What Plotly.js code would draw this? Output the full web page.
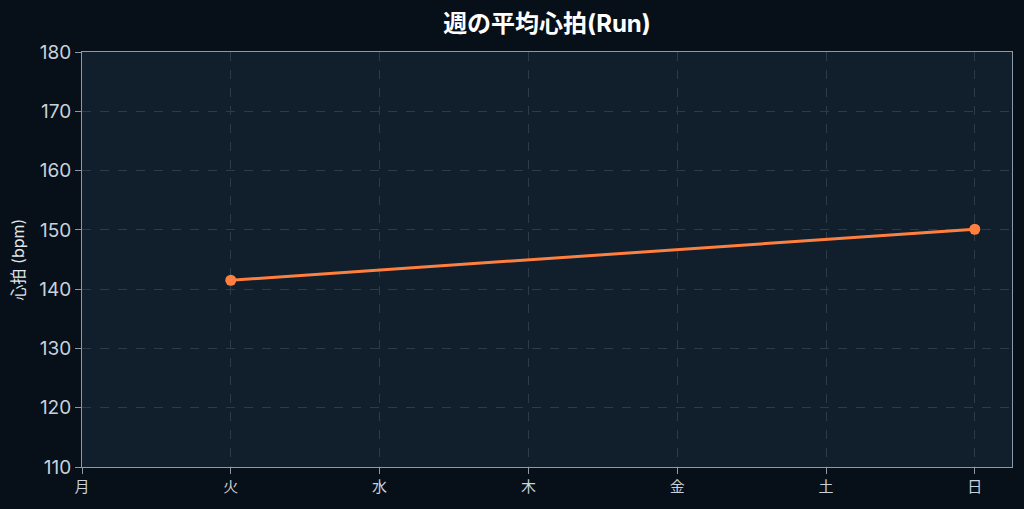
<!DOCTYPE html>
<html><head><meta charset="utf-8">
<script src="https://cdn.plot.ly/plotly-3.0.1.min.js"></script>
<style>html,body{margin:0;padding:0;background:#070f18;}#chart{width:1024px;height:509px;}</style>
</head><body><div id="chart"></div>
<script>
const days = ['月','火','水','木','金','土','日'];
const heartRate = [null, 141.5, null, null, null, null, 150.1];
const yTicks = [110,120,130,140,150,160,170,180];

const trace = {
  x: days, y: heartRate, type: 'scatter', mode: 'lines+markers',
  connectgaps: true,
  line: {color: '#ff7f3f', width: 3},
  marker: {color: '#ff7f3f', size: 11},
  hoverinfo: 'skip'
};
const fontFam = 'Inter, "Noto Sans CJK JP", sans-serif';
const layout = {
  width: 1024, height: 509,
  paper_bgcolor: '#070f18', plot_bgcolor: '#111e2b',
  margin: {l: 82, r: 12, t: 52, b: 42},
  font: {family: fontFam, color: '#c8d2dc', size: 14},
  title: {text: '<b>週の平均心拍(Run)</b>', font: {family: fontFam, size: 24, color: '#ffffff'}, xref: 'paper', x: 0.5, xanchor: 'center', y: 0.953, yanchor: 'middle'},
  showlegend: false,
  xaxis: {
    type: 'category', categoryorder: 'array', categoryarray: days,
    range: [0, 6.25],
    showline: true, linecolor: '#8a9aaa', linewidth: 1, mirror: true,
    ticks: 'outside', ticklen: 6, tickcolor: '#8a9aaa',
    showgrid: true, gridcolor: '#2c3b4a', griddash: 'dash', gridwidth: 1,
    zeroline: false, tickfont: {family: fontFam, size: 15, color: '#c8d2dc'}
  },
  yaxis: {
    range: [110, 180], tickvals: yTicks,
    title: {text: '心拍 (bpm)', font: {family: fontFam, size: 16, color: '#e0e6ec'}, standoff: 10},
    showline: true, linecolor: '#8a9aaa', linewidth: 1, mirror: true,
    ticks: 'outside', ticklen: 6, tickcolor: '#8a9aaa',
    showgrid: true, gridcolor: '#2c3b4a', griddash: 'dash', gridwidth: 1,
    zeroline: false, tickfont: {family: fontFam, size: 19, color: '#c8d2dc'}
  }
};
Plotly.newPlot('chart', [trace], layout, {displayModeBar: false, staticPlot: true});
</script></body></html>
